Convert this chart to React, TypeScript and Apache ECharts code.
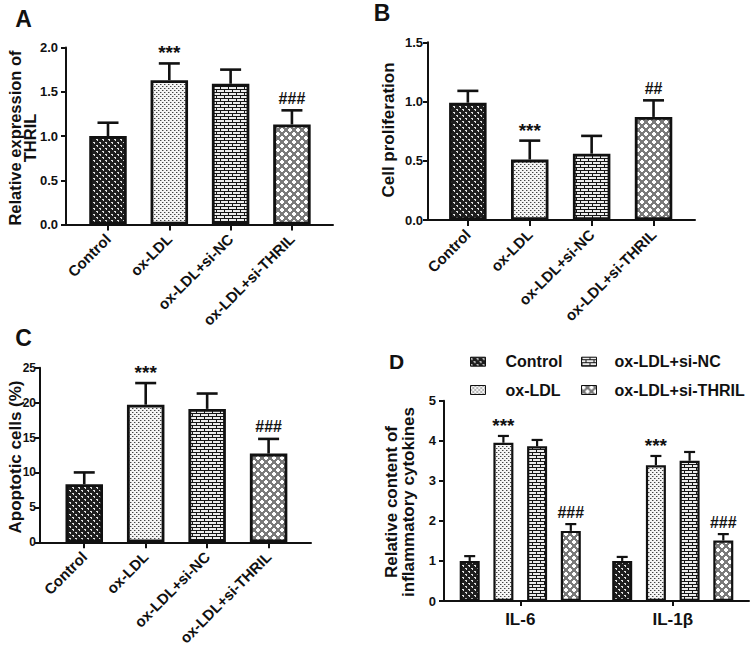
import React, { useEffect, useRef } from 'react';
import * as echarts from 'echarts';

const FONT = '"Liberation Sans", Arial, Helvetica, sans-serif';
const INK = '#111';

// ---------- data ----------
const groups = ['Control', 'ox-LDL', 'ox-LDL+si-NC', 'ox-LDL+si-THRIL'];

const thrilMean = [1.0, 1.63, 1.59, 1.13];
const thrilErr = [0.15, 0.19, 0.16, 0.16];
const thrilSig = ['', '***', '', '###'];

const prolifMean = [0.99, 0.51, 0.56, 0.87];
const prolifErr = [0.1, 0.16, 0.15, 0.14];
const prolifSig = ['', '***', '', '##'];

const apopMean = [8.3, 19.7, 19.1, 12.7];
const apopErr = [1.7, 3.1, 2.2, 2.1];
const apopSig = ['', '***', '', '###'];

const cytokines = ['IL-6', 'IL-1β'];
const controlCyto = [1.0, 1.0];
const oxLdlCyto = [3.95, 3.39];
const siNcCyto = [3.86, 3.5];
const siThrilCyto = [1.75, 1.51];
const controlCytoErr = [0.12, 0.1];
const oxLdlCytoErr = [0.17, 0.23];
const siNcCytoErr = [0.16, 0.22];
const siThrilCytoErr = [0.17, 0.16];
const cytoSig = [
  ['', ''],
  ['***', '***'],
  ['', ''],
  ['###', '###'],
];

// ---------- patterns ----------
function makePattern(w: number, h: number, draw: (ctx: CanvasRenderingContext2D) => void) {
  const c = document.createElement('canvas');
  c.width = w;
  c.height = h;
  const ctx = c.getContext('2d')!;
  draw(ctx);
  return { image: c, repeat: 'repeat', imageWidth: w, imageHeight: h } as any;
}

function buildPatterns() {
  const dark = makePattern(6, 6, (ctx) => {
    ctx.fillStyle = '#1e1e1e';
    ctx.fillRect(0, 0, 6, 6);
    ctx.fillStyle = '#e0e0e0';
    ctx.fillRect(0, 1, 2, 1);
    ctx.fillRect(1, 2, 1, 1);
    ctx.fillRect(3, 4, 2, 1);
    ctx.fillRect(4, 5, 1, 1);
  });
  const dots = makePattern(4, 4, (ctx) => {
    ctx.fillStyle = '#f4f4f4';
    ctx.fillRect(0, 0, 4, 4);
    ctx.fillStyle = '#444';
    ctx.fillRect(0, 0, 1, 1);
    ctx.fillRect(2, 2, 1, 1);
    ctx.fillStyle = '#aaa';
    ctx.fillRect(1, 0, 1, 1);
    ctx.fillRect(3, 2, 1, 1);
  });
  const bricks = makePattern(8, 6, (ctx) => {
    ctx.fillStyle = '#ececec';
    ctx.fillRect(0, 0, 8, 6);
    ctx.fillStyle = '#151515';
    ctx.fillRect(0, 2, 8, 1);
    ctx.fillRect(0, 5, 8, 1);
    ctx.fillRect(0, 0, 1, 2);
    ctx.fillRect(4, 3, 1, 2);
  });
  const diamonds = makePattern(8, 8, (ctx) => {
    ctx.fillStyle = '#7a7a7a';
    ctx.fillRect(0, 0, 8, 8);
    ctx.fillStyle = '#ffffff';
    const diamond = (cx: number, cy: number) => {
      ctx.fillRect(cx - 1, cy - 2, 2, 1);
      ctx.fillRect(cx - 2, cy - 1, 4, 2);
      ctx.fillRect(cx - 1, cy + 1, 2, 1);
    };
    diamond(2, 2);
    diamond(6, 6);
  });
  return [dark, dots, bricks, diamonds];
}

// ---------- helpers ----------
const axisLineStyle = { color: INK, width: 2 };

function errRenderer(sig: string[], capHalf: number, lw: number, offset: number) {
  return (params: any, api: any) => {
    const x = api.value(0);
    const m = api.value(1);
    const e = api.value(2);
    const base = api.coord([x, m]);
    const top = api.coord([x, m + e]);
    const bx = base[0] + offset;
    const children: any[] = [
      { type: 'line', shape: { x1: bx, y1: base[1], x2: bx, y2: top[1] }, style: { stroke: INK, lineWidth: lw } },
      { type: 'line', shape: { x1: bx - capHalf, y1: top[1], x2: bx + capHalf, y2: top[1] }, style: { stroke: INK, lineWidth: lw } },
    ];
    const s = sig[params.dataIndex];
    if (s) {
      const isStar = s.charAt(0) === '*';
      children.push({
        type: 'text',
        x: bx,
        y: top[1] - (isStar ? 1 : 4),
        style: {
          text: s,
          align: 'center',
          verticalAlign: 'bottom',
          fontSize: isStar ? 19 : 16,
          fontWeight: 'bold',
          fontFamily: FONT,
          fill: INK,
        },
      });
    }
    return { type: 'group', children };
  };
}

function catXAxis(gridIndex: number, min: number, max: number) {
  return {
    gridIndex,
    type: 'value',
    min,
    max,
    splitLine: { show: false },
    axisLine: { show: true, onZero: false, lineStyle: axisLineStyle },
    axisTick: { show: true, customValues: [0, 1, 2, 3], length: 6, lineStyle: axisLineStyle },
    axisLabel: {
      customValues: [0, 1, 2, 3],
      formatter: (v: number) => groups[Math.round(v)] ?? '',
      rotate: 45,
      fontSize: 15,
      fontWeight: 'bold',
      fontFamily: FONT,
      color: INK,
      margin: 12,
    },
  };
}

function valYAxis(gridIndex: number, max: number, interval: number, digits: number, margin: number, size: number) {
  return {
    gridIndex,
    type: 'value',
    min: 0,
    max,
    interval,
    splitLine: { show: false },
    axisLine: { show: true, onZero: false, lineStyle: axisLineStyle },
    axisTick: { show: true, length: 5, lineStyle: axisLineStyle },
    axisLabel: {
      formatter: (v: number) => v.toFixed(digits),
      fontSize: size,
      fontWeight: 'bold',
      fontFamily: FONT,
      color: INK,
      margin,
    },
  };
}

export default function App() {
  const ref = useRef<HTMLDivElement>(null);

  useEffect(() => {
    if (!ref.current) return;
    const chart = echarts.init(ref.current, null, { renderer: 'svg' });
    const pats = buildPatterns();

    const simplePanels = [
      { mean: thrilMean, err: thrilErr, sig: thrilSig },
      { mean: prolifMean, err: prolifErr, sig: prolifSig },
      { mean: apopMean, err: apopErr, sig: apopSig },
    ];

    const series: any[] = [];
    simplePanels.forEach((p, k) => {
      series.push({
        type: 'bar',
        name: 'panel' + k,
        xAxisIndex: k,
        yAxisIndex: k,
        barWidth: 37.5,
        z: 2,
        data: p.mean.map((v, i) => ({ value: [i, v], itemStyle: { color: pats[i] } })),
        itemStyle: { borderColor: INK, borderWidth: 2.8 },
      });
      series.push({
        type: 'custom',
        name: 'err' + k,
        xAxisIndex: k,
        yAxisIndex: k,
        z: 5,
        silent: true,
        data: p.mean.map((v, i) => [i, v, p.err[i]]),
        renderItem: errRenderer(p.sig, 10.5, 2.6, 0),
      });
    });

    const dMeans = [controlCyto, oxLdlCyto, siNcCyto, siThrilCyto];
    const dErrs = [controlCytoErr, oxLdlCytoErr, siNcCytoErr, siThrilCytoErr];
    const dBarW = 20;
    const dGap = 0.685;
    const dStep = dBarW * (1 + dGap);
    groups.forEach((g, s) => {
      series.push({
        type: 'bar',
        name: g,
        xAxisIndex: 3,
        yAxisIndex: 3,
        barWidth: dBarW,
        barGap: dGap * 100 + '%',
        z: 2,
        data: dMeans[s],
        itemStyle: { color: pats[s], borderColor: INK, borderWidth: 2.2 },
      });
    });
    groups.forEach((g, s) => {
      series.push({
        type: 'custom',
        name: 'errD' + s,
        xAxisIndex: 3,
        yAxisIndex: 3,
        z: 5,
        silent: true,
        data: dMeans[s].map((v, i) => [i, v, dErrs[s][i]]),
        renderItem: errRenderer(cytoSig[s], 5.5, 2.2, (s - 1.5) * dStep),
      });
    });

    const titleStyle = (text: string, size: number, lh: number) => ({
      text,
      align: 'center',
      verticalAlign: 'middle',
      fontSize: size,
      lineHeight: lh,
      fontWeight: 'bold',
      fontFamily: FONT,
      fill: INK,
    });
    const letter = (t: string, x: number, y: number, size: number) => ({
      type: 'text',
      x,
      y,
      style: { text: t, align: 'center', verticalAlign: 'middle', fontSize: size, fontWeight: 'bold', fontFamily: FONT, fill: INK },
    });

    const legendBase = {
      orient: 'vertical',
      padding: 0,
      itemWidth: 15,
      itemHeight: 9,
      itemGap: 10.3,
      icon: 'rect',
      selectedMode: false,
      itemStyle: { borderColor: INK, borderWidth: 1 },
    };

    chart.setOption({
      animation: false,
      backgroundColor: '#fff',
      textStyle: { fontFamily: FONT },
      grid: [
        { left: 66, top: 47.5, width: 267, height: 177 },
        { left: 428, top: 42.3, width: 267, height: 177.7 },
        { left: 40, top: 367.7, width: 271, height: 178 },
        { left: 444, top: 400.7, width: 305, height: 200.3 },
      ],
      xAxis: [
        catXAxis(0, -0.685, 3.67),
        catXAxis(1, -0.644, 3.67),
        catXAxis(2, -0.72, 3.69),
        {
          gridIndex: 3,
          type: 'category',
          data: cytokines,
          axisLine: { show: true, onZero: false, lineStyle: axisLineStyle },
          axisTick: { show: true, alignWithLabel: true, length: 5, lineStyle: axisLineStyle },
          axisLabel: { fontSize: 17, fontWeight: 'bold', fontFamily: FONT, color: INK, margin: 10 },
        },
      ],
      yAxis: [
        valYAxis(0, 2, 0.5, 1, 8, 13),
        valYAxis(1, 1.5, 0.5, 1, 5, 13),
        valYAxis(2, 25, 5, 0, 4, 12),
        valYAxis(3, 5, 1, 0, 8, 13),
      ],
      legend: [
        {
          ...legendBase,
          data: [groups[0], groups[1]],
          left: 470,
          top: 352.7,
          textStyle: { fontSize: 16, fontWeight: 'bold', fontFamily: FONT, color: INK, lineHeight: 18, padding: [0, 0, 0, 15] },
        },
        {
          ...legendBase,
          data: [groups[2], groups[3]],
          left: 581,
          top: 352.7,
          textStyle: { fontSize: 16, fontWeight: 'bold', fontFamily: FONT, color: INK, lineHeight: 18, padding: [0, 0, 0, 13] },
        },
      ],
      graphic: [
        letter('A', 23.5, 19, 23),
        letter('B', 382, 13, 23),
        letter('C', 23.5, 338, 23),
        letter('D', 396.5, 361, 21),
        { type: 'text', x: 22, y: 138, rotation: Math.PI / 2, style: titleStyle('Relative expression of\nTHRIL', 16.5, 15) },
        { type: 'text', x: 388, y: 130, rotation: Math.PI / 2, style: titleStyle('Cell proliferation', 17, 18) },
        { type: 'text', x: 15, y: 457, rotation: Math.PI / 2, style: titleStyle('Apoptotic cells (%)', 17, 18) },
        { type: 'text', x: 400, y: 502, rotation: Math.PI / 2, style: titleStyle('Relative content of\ninflammatory cytokines', 17, 17) },
      ],
      series,
    });

    return () => chart.dispose();
  }, []);

  return <div ref={ref} style={{ position: 'absolute', left: 0, top: 0, width: 750, height: 648 }} />;
}
